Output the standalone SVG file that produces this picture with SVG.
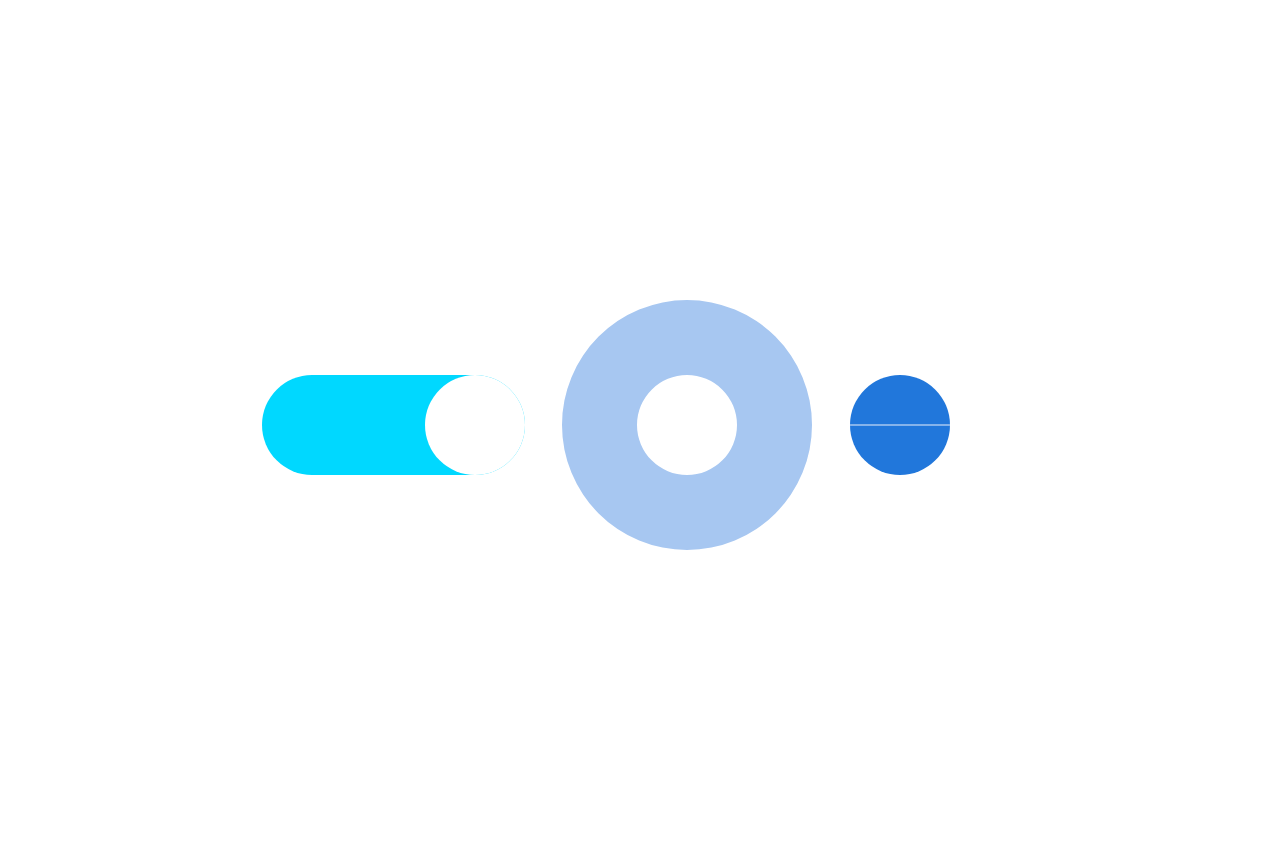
<svg xmlns="http://www.w3.org/2000/svg" width="1275" height="850" viewBox="0 0 1275 850">
<rect width="1275" height="850" fill="#ffffff"/>
<g id="toggle">
<rect x="262" y="375" width="263" height="100" rx="50" fill="#00d8ff"/>
<circle cx="475" cy="425" r="50" fill="#ffffff"/>
</g>
<g id="ring">
<path d="M562,425a125,125 0 1,0 250,0a125,125 0 1,0 -250,0ZM637,425a50,50 0 1,1 100,0a50,50 0 1,1 -100,0Z" fill="#a7c7f1" fill-rule="evenodd"/>
</g>
<g id="dot">
<circle cx="900" cy="425" r="50" fill="#2177db"/>
<line x1="850" y1="425" x2="950" y2="425" stroke="#a7c7f1" stroke-width="1.5"/>
</g>
</svg>
